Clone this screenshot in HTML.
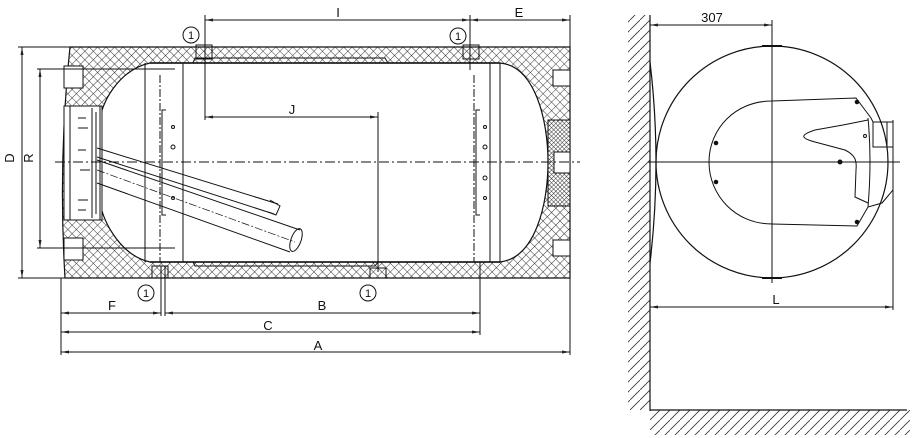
<!DOCTYPE html>
<html><head><meta charset="utf-8"><style>
html,body{margin:0;padding:0;background:#fff;}
svg{display:block;}
text{font-family:"Liberation Sans",sans-serif;font-size:13px;fill:#111;}
</style></head><body>
<svg width="922" height="438" viewBox="0 0 922 438" xmlns="http://www.w3.org/2000/svg">
<defs>
<pattern id="h" width="6" height="6" patternUnits="userSpaceOnUse" patternTransform="rotate(45)">
<rect width="6" height="6" fill="#fff"/>
<line x1="0" y1="0" x2="0" y2="6" stroke="#222" stroke-width="0.9"/>
<line x1="0" y1="0" x2="6" y2="0" stroke="#222" stroke-width="0.9"/>
</pattern>
<pattern id="hd" width="3" height="3" patternUnits="userSpaceOnUse" patternTransform="rotate(45)">
<rect width="3" height="3" fill="#fff"/>
<line x1="0" y1="0" x2="0" y2="3" stroke="#222" stroke-width="0.9"/>
<line x1="0" y1="0" x2="3" y2="0" stroke="#222" stroke-width="0.9"/>
</pattern>
<pattern id="wall" width="10" height="10" patternUnits="userSpaceOnUse">
<line x1="0" y1="10" x2="10" y2="0" stroke="#333" stroke-width="0.8"/>
</pattern>
<marker id="a" markerWidth="8" markerHeight="6" refX="8" refY="3" orient="auto-start-reverse" markerUnits="userSpaceOnUse">
<path d="M0,1.5 L8,3 L0,4.5" fill="#222"/>
</marker>
</defs>
<g fill="none" stroke="#111" stroke-width="1">
<path fill="url(#h)" fill-rule="evenodd" stroke-width="1.2" d="M70,47 L570,47 L570,278 L65,278 Q58,162 70,47 Z
 M150,63 L500,63 C535,66 548,120 548,162 C548,205 535,258 500,262 L150,262 C118,255 100,215 100,200 L100,122 C100,105 118,70 150,63 Z"/>
<rect x="64" y="106" width="38" height="114" fill="#fff"/>
<rect x="64" y="66" width="19" height="22" fill="#fff"/>
<rect x="64" y="238" width="19" height="22" fill="#fff"/>
<rect x="553" y="70" width="17" height="16" fill="#fff"/>
<rect x="553" y="240" width="17" height="16" fill="#fff"/>
<rect x="548" y="120" width="22" height="86" fill="url(#hd)"/>
<rect x="554" y="152" width="16" height="21" fill="#fff"/>
<line x1="150" y1="63" x2="500" y2="63" stroke-width="1.5"/>
<line x1="150" y1="262" x2="500" y2="262" stroke-width="1.5"/>
<path d="M193,63 L195,58 L385,58 L388,63"/>
<path d="M193,262 L195,266 L375,266 L378,262"/>
<rect x="196" y="45" width="16" height="14"/>
<rect x="463" y="45" width="16" height="14"/>
<rect x="152" y="266" width="16" height="12"/>
<rect x="370" y="268" width="16" height="10"/>
<line x1="145" y1="63" x2="145" y2="262"/>
<line x1="183" y1="63" x2="183" y2="262"/>
<line x1="490" y1="63" x2="490" y2="262"/>
<line x1="500" y1="63" x2="500" y2="262"/>
<path d="M160,75 L160,262 M474,75 L474,262" stroke-dasharray="8,2,2,2"/>
<path d="M166,110 L162,110 L162,215 L166,215 M480,110 L476,110 L476,215 L480,215"/>
<circle cx="173" cy="127" r="1.5"/><circle cx="173" cy="198" r="1.5"/>
<circle cx="485" cy="127" r="1.5"/><circle cx="485" cy="198" r="1.5"/>
<circle cx="173" cy="147" r="2"/><circle cx="485" cy="147" r="2"/><circle cx="485" cy="178" r="2"/>
<path d="M70,106 L100,106 L100,220 L70,220 Z"/>
<path d="M92,108 L92,218 M96,112 L96,214" />
<path d="M78,118 L86,118 M78,128 L88,128 M78,200 L88,200 M78,210 L86,210 M80,170 L90,170 M78,150 L86,150"/>
<path d="M97,160 L300,230 M97,183 L290,252" stroke-width="1"/>
<ellipse cx="296" cy="240" rx="5" ry="12" transform="rotate(20 296 240)"/>
<path d="M97,148 L278,204 M97,157 L274,214"/>
<path d="M270,200 L280,206 L276,215 L268,212"/>
<path d="M97,170 L295,242" stroke-dasharray="8,2,2,2" stroke-width="0.7"/>
<line x1="55" y1="162" x2="580" y2="162" stroke-dasharray="10,3,2,3"/>
<line x1="205" y1="20" x2="470" y2="20" marker-start="url(#a)" marker-end="url(#a)"/>
<line x1="470" y1="20" x2="570" y2="20" marker-start="url(#a)" marker-end="url(#a)"/>
<line x1="205" y1="15" x2="205" y2="120"/>
<line x1="470" y1="15" x2="470" y2="70"/>
<line x1="570" y1="15" x2="570" y2="355"/>
<line x1="205" y1="117" x2="378" y2="117" marker-start="url(#a)" marker-end="url(#a)"/>
<line x1="378" y1="112" x2="378" y2="272"/>
<line x1="22" y1="47" x2="22" y2="278" marker-start="url(#a)" marker-end="url(#a)"/>
<line x1="18" y1="47" x2="70" y2="47"/>
<line x1="18" y1="278" x2="65" y2="278"/>
<line x1="40" y1="69" x2="40" y2="248" marker-start="url(#a)" marker-end="url(#a)"/>
<line x1="37" y1="69" x2="175" y2="69"/>
<line x1="37" y1="248" x2="175" y2="248"/>
<line x1="61" y1="278" x2="61" y2="355"/>
<line x1="161" y1="266" x2="161" y2="316"/>
<line x1="165" y1="266" x2="165" y2="316"/>
<line x1="480" y1="262" x2="480" y2="335"/>
<line x1="61" y1="313" x2="161" y2="313" marker-start="url(#a)" marker-end="url(#a)"/>
<line x1="165" y1="313" x2="480" y2="313" marker-start="url(#a)" marker-end="url(#a)"/>
<line x1="61" y1="332" x2="480" y2="332" marker-start="url(#a)" marker-end="url(#a)"/>
<line x1="61" y1="352" x2="570" y2="352" marker-start="url(#a)" marker-end="url(#a)"/>
<circle cx="191" cy="35" r="8"/><circle cx="458" cy="36" r="8"/>
<circle cx="146" cy="293" r="8"/><circle cx="368" cy="293" r="8"/>

<rect x="628" y="15" width="22" height="395" fill="url(#wall)" stroke="none"/>
<rect x="650" y="410" width="260" height="25" fill="url(#wall)" stroke="none"/>
<line x1="650" y1="15" x2="650" y2="411" stroke-width="1.2"/>
<line x1="650" y1="410" x2="907" y2="410" stroke-width="1.2"/>
<circle cx="772" cy="162" r="116" stroke-width="1.2"/>
<path d="M650,62 Q662,162 650,263" stroke-width="1.2"/>
<path d="M762,46 L782,46 M762,278 L782,278" stroke-width="2"/>
<path d="M772,101 L856,98 L871,118 L873,122 L893,122 L893,190 L882,203 L868,207 L857,226 L772,224 C735,224 709,195 709,162 C709,129 735,101 772,101 Z"/>
<path d="M868,118 Q872,160 868,207"/>
<path d="M873,122 L873,147 L893,147 M887,122 L887,147"/>
<path d="M868,120 L843,125 L815,130 C800,135 800,138 815,142 L845,150 C855,155 857,160 856,170 L855,197 L868,203"/>
<circle cx="857" cy="102" r="1.8" fill="#111"/><circle cx="857" cy="222" r="1.8" fill="#111"/>
<circle cx="716" cy="143" r="1.8" fill="#111"/><circle cx="716" cy="182" r="1.8" fill="#111"/>
<circle cx="840" cy="162" r="2" fill="#111"/><circle cx="865" cy="136" r="1.5"/>
<line x1="648" y1="162" x2="900" y2="162"/>
<line x1="772" y1="20" x2="772" y2="283"/>
<line x1="650" y1="25" x2="772" y2="25" marker-start="url(#a)" marker-end="url(#a)"/>
<line x1="650" y1="307" x2="893" y2="307" marker-start="url(#a)" marker-end="url(#a)"/>
<line x1="893" y1="120" x2="893" y2="310"/>
</g>
<text x="338" y="17" text-anchor="middle">I</text>
<text x="519" y="17" text-anchor="middle">E</text>
<text x="292" y="114" text-anchor="middle">J</text>
<text x="112" y="310" text-anchor="middle">F</text>
<text x="322" y="310" text-anchor="middle">B</text>
<text x="268" y="330" text-anchor="middle">C</text>
<text x="318" y="350" text-anchor="middle">A</text>
<text x="18" y="162" text-anchor="middle" transform="rotate(-90 14 162)">D</text>
<text x="37" y="162" text-anchor="middle" transform="rotate(-90 33 162)">R</text>
<text x="712" y="22" text-anchor="middle">307</text>
<text x="776" y="304" text-anchor="middle">L</text>
<g text-anchor="middle">
<text x="191" y="39" style="font-size:11px">1</text>
<text x="458" y="40" style="font-size:11px">1</text>
<text x="146" y="297" style="font-size:11px">1</text>
<text x="368" y="297" style="font-size:11px">1</text>
</g>
</svg>
</body></html>
